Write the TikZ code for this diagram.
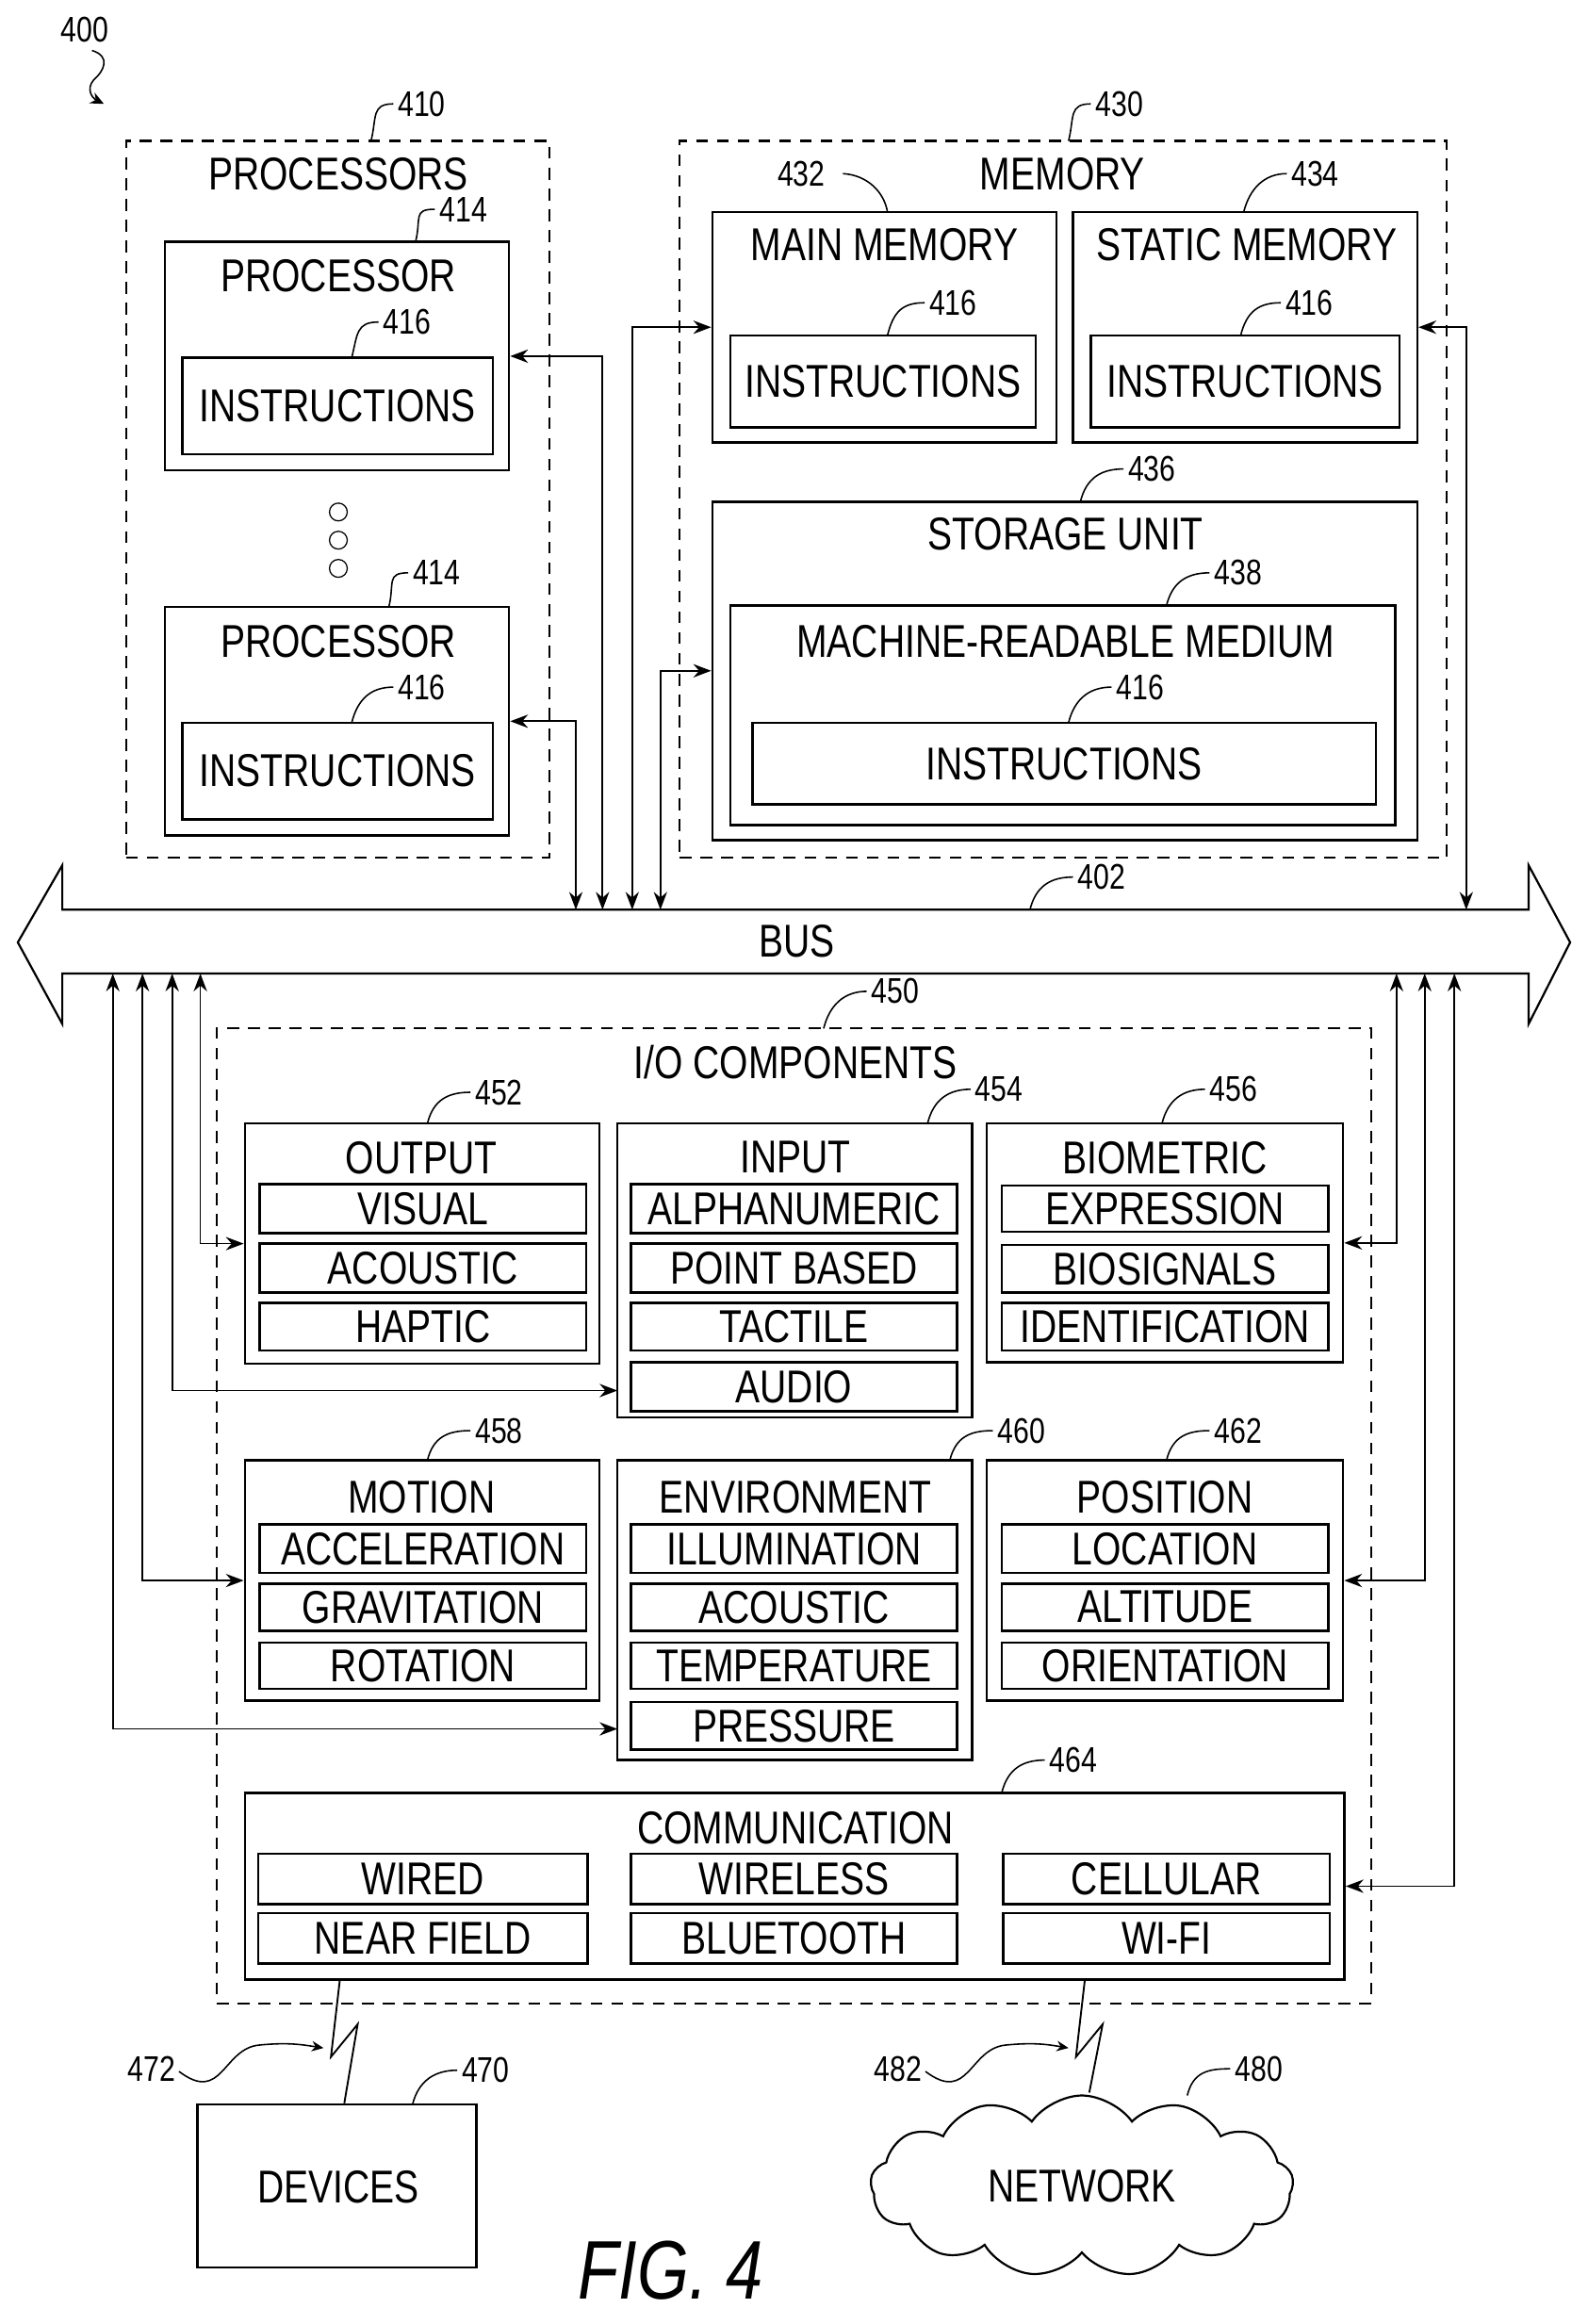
\documentclass[tikz,border=0pt]{standalone}
\usepackage{fontspec}
\setmainfont{Liberation Sans}[FakeStretch=0.8]
\usetikzlibrary{arrows.meta,fit,shapes.symbols,calc}
\begin{document}
\begin{tikzpicture}[x=1pt,y=-1pt,
  box/.style={draw,line width=1.6pt,inner sep=0pt},
  dbox/.style={draw,line width=1.4pt,dash pattern=on 8pt off 6pt,inner sep=0pt},
  ttl/.style={font=\fontsize{31}{31}\selectfont,inner sep=0pt},
  num/.style={font=\fontsize{24}{24}\selectfont,inner sep=0pt},
  lead/.style={line width=1pt,shorten >=3pt},
  conn/.style={line width=1.1pt,{Stealth[length=12pt,width=9pt]}-{Stealth[length=12pt,width=9pt]}},
]
\useasboundingbox (0,0) rectangle (1070,1566);
\newcommand{\bx}[6][box]{\node[#1,fit={(#3,#4)(#5,#6)}] (#2) {};}
\newcommand{\sub}[6]{\node[box,fit={(#2,#3)(#4,#5)}] (#1) {}; \node[ttl] at (#1.center) {#6};}
\newcommand{\lbl}[6]{\node[num,anchor=west] (#1) at (#4,#5) {#6}; \draw[lead] (#2,#3) .. controls ($(#2,#3)+(4,-16)$) and ($(#4,#5)+(-18,0)$) .. (#1.west);}

% 400
\node[num] (l400) at (57,20) {400};
\draw[lead,shorten >=0pt,-{Stealth[length=9pt,width=8pt]}] (62,34) .. controls (75,38) and (70,48) .. (63,54) .. controls (58,60) and (62,66) .. (70,70);

% processors
\bx[dbox]{procs}{85}{95}{370}{578}
\node[ttl] (tprocs) at (228,117) {PROCESSORS};
\lbl{l410}{250}{95}{268}{70}{410}
\bx{p1}{111}{163}{343}{317}
\node[ttl] at (228,186) {PROCESSOR};
\lbl{l414a}{280}{163}{296}{141}{414}
\sub{i1}{123}{241}{332}{306}{INSTRUCTIONS}
\lbl{l416a}{237}{241}{258}{217}{416}
\foreach \yy in {345,364,383} \draw[line width=0.8pt] (228,\yy) circle (6);
\bx{p2}{111}{409}{343}{563}
\node[ttl] at (228,432) {PROCESSOR};
\lbl{l414b}{262}{409}{278}{386}{414}
\sub{i2}{123}{487}{332}{552}{INSTRUCTIONS}
\lbl{l416b}{237}{487}{268}{463}{416}

% memory
\bx[dbox]{mem}{458}{95}{975}{578}
\node[ttl] at (716,117) {MEMORY};
\lbl{l430}{720}{95}{738}{70}{430}
\bx{mm}{480}{143}{712}{298}
\node[ttl] at (596,165) {MAIN MEMORY};
\node[num] (l432) at (540,117) {432};
\draw[lead,shorten >=0pt] (568,117) .. controls (585,118) and (596,130) .. (598,143);
\sub{i3}{492}{226}{698}{288}{INSTRUCTIONS}
\lbl{l416c}{598}{226}{626}{204}{416}
\bx{sm}{723}{143}{955}{298}
\node[ttl] at (840,165) {STATIC MEMORY};
\lbl{l434}{838}{143}{870}{117}{434}
\sub{i4}{735}{226}{943}{288}{INSTRUCTIONS}
\lbl{l416d}{836}{226}{866}{204}{416}
\bx{su}{480}{338}{955}{566}
\node[ttl] at (718,360) {STORAGE UNIT};
\lbl{l436}{728}{338}{760}{316}{436}
\bx{mrm}{492}{408}{940}{556}
\node[ttl] at (718,432) {MACHINE-READABLE MEDIUM};
\lbl{l438}{786}{408}{818}{386}{438}
\sub{i5}{507}{487}{927}{542}{INSTRUCTIONS}
\lbl{l416e}{720}{487}{752}{463}{416}

% bus
\draw[line width=1.4pt] (42,613)--(1030,613)--(1030,583)--(1058,635)--(1030,690)--(1030,656)--(42,656)--(42,690)--(12,635)--(42,583)--cycle;
\node[ttl] (tbus) at (537,634) {BUS};
\lbl{l402}{694}{613}{726}{591}{402}
\coordinate (t1) at (388,613); \coordinate (t2) at (406,613);
\coordinate (t3) at (426,613); \coordinate (t4) at (445,613);
\coordinate (t5) at (988,613);
\draw[conn] (p2.east) -| (t1);
\draw[conn] (p1.east) -| (t2);
\draw[conn] (mm.west) -| (t3);
\draw[conn] (su.west) -| (t4);
\draw[conn] (sm.east) -| (t5);

% I/O
\bx[dbox]{io}{146}{693}{924}{1350}
\node[ttl] at (536,716) {I/O COMPONENTS};
\lbl{l450}{555}{693}{587}{668}{450}

\bx{out}{165}{757}{404}{919}
\node[ttl] at (284,780) {OUTPUT};
\lbl{l452}{288}{757}{320}{736}{452}
\sub{o1}{175}{798}{395}{831}{VISUAL}
\sub{o2}{175}{838}{395}{871}{ACOUSTIC}
\sub{o3}{175}{878}{395}{910}{HAPTIC}

\bx{inp}{416}{757}{655}{955}
\node[ttl] at (536,780) {INPUT};
\lbl{l454}{625}{757}{657}{734}{454}
\sub{n1}{425}{798}{645}{831}{ALPHANUMERIC}
\sub{n2}{425}{838}{645}{871}{POINT BASED}
\sub{n3}{425}{878}{645}{910}{TACTILE}
\sub{n4}{425}{918}{645}{951}{AUDIO}

\bx{bio}{665}{757}{905}{918}
\node[ttl] at (785,780) {BIOMETRIC};
\lbl{l456}{783}{757}{815}{734}{456}
\sub{b1}{675}{799}{895}{830}{EXPRESSION}
\sub{b2}{675}{839}{895}{871}{BIOSIGNALS}
\sub{b3}{675}{878}{895}{910}{IDENTIFICATION}

\bx{mot}{165}{984}{404}{1146}
\node[ttl] at (284,1009) {MOTION};
\lbl{l458}{288}{984}{320}{964}{458}
\sub{m1}{175}{1027}{395}{1060}{ACCELERATION}
\sub{m2}{175}{1067}{395}{1099}{GRAVITATION}
\sub{m3}{175}{1107}{395}{1138}{ROTATION}

\bx{env}{416}{984}{655}{1186}
\node[ttl] at (536,1009) {ENVIRONMENT};
\lbl{l460}{640}{984}{672}{964}{460}
\sub{e1}{425}{1027}{645}{1060}{ILLUMINATION}
\sub{e2}{425}{1067}{645}{1099}{ACOUSTIC}
\sub{e3}{425}{1107}{645}{1138}{TEMPERATURE}
\sub{e4}{425}{1147}{645}{1179}{PRESSURE}

\bx{pos}{665}{984}{905}{1146}
\node[ttl] at (785,1009) {POSITION};
\lbl{l462}{786}{984}{818}{964}{462}
\sub{q1}{675}{1027}{895}{1060}{LOCATION}
\sub{q2}{675}{1067}{895}{1099}{ALTITUDE}
\sub{q3}{675}{1107}{895}{1138}{ORIENTATION}

\bx{com}{165}{1208}{906}{1334}
\node[ttl] at (536,1232) {COMMUNICATION};
\lbl{l464}{675}{1208}{707}{1186}{464}
\sub{c1}{174}{1249}{396}{1283}{WIRED}
\sub{c2}{425}{1249}{645}{1283}{WIRELESS}
\sub{c3}{676}{1249}{896}{1283}{CELLULAR}
\sub{c4}{174}{1289}{396}{1323}{NEAR FIELD}
\sub{c5}{425}{1289}{645}{1323}{BLUETOOTH}
\sub{c6}{676}{1289}{896}{1323}{WI-FI}

% bottom connectors
\coordinate (u1) at (76,656); \coordinate (u2) at (96,656);
\coordinate (u3) at (116,656); \coordinate (u4) at (135,656);
\coordinate (u5) at (941,656); \coordinate (u6) at (960,656);
\coordinate (u7) at (980,656);
\coordinate (ein) at (416,937); \coordinate (eenv) at (416,1165);
\draw[conn] (u4) |- (out.west);
\draw[conn] (u3) |- (ein);
\draw[conn] (u2) |- (mot.west);
\draw[conn] (u1) |- (eenv);
\draw[conn] (u5) |- (bio.east);
\draw[conn] (u6) |- (pos.east);
\draw[conn] (u7) |- (com.east);

% devices and network
\bx{dev}{133}{1418}{321}{1528}
\node[ttl] at (228,1474) {DEVICES};
\lbl{l470}{278}{1418}{311}{1395}{470}
\node[cloud,draw,line width=1.4pt,cloud puffs=13,cloud puff arc=110,minimum width=285pt,minimum height=122pt,aspect=2.3] (net) at (729,1473) {};
\node[ttl] at (729,1473) {NETWORK};
\lbl{l480}{800}{1412}{832}{1394}{480}

\draw[line width=1.2pt] (229,1334)--(223,1386)--(241,1364)--(dev.north -| 232,0);
\draw[line width=1.2pt] (731,1334)--(725,1386)--(743,1364)--(734,1410);
\node[num] (l472) at (102,1394) {472};
\draw[lead,shorten >=0pt,shorten <=3pt,-{Stealth[length=8pt,width=7pt]}] (l472.east) .. controls (150,1418) and (150,1380) .. (175,1378) .. controls (195,1376) and (205,1378) .. (218,1380);
\node[num] (l482) at (605,1394) {482};
\draw[lead,shorten >=0pt,shorten <=3pt,-{Stealth[length=8pt,width=7pt]}] (l482.east) .. controls (653,1418) and (653,1380) .. (678,1378) .. controls (698,1376) and (708,1378) .. (720,1380);

\node[font=\fontsize{56}{56}\selectfont\itshape,inner sep=0pt] (fig) at (452,1530) {FIG. 4};
\end{tikzpicture}
\end{document}
